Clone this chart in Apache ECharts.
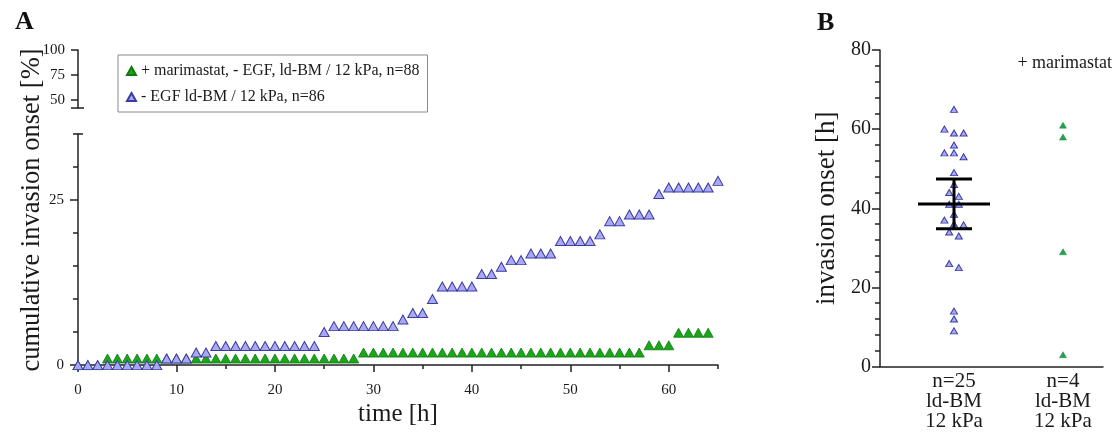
<!DOCTYPE html>
<html><head><meta charset="utf-8">
<script src="https://cdn.jsdelivr.net/npm/echarts@6/dist/echarts.min.js"></script>
<style>html,body{margin:0;padding:0;background:#fff}#c{width:1114px;height:432px}</style>
</head><body><div id="c"></div>
<script>
// ---------- Data ----------
const timeH = [0,1,2,3,4,5,6,7,8,9,10,11,12,13,14,15,16,17,18,19,20,21,22,23,24,25,26,27,28,29,30,31,32,33,34,35,36,37,38,39,40,41,42,43,44,45,46,47,48,49,50,51,52,53,54,55,56,57,58,59,60,61,62,63,64,65];
// - EGF ld-BM / 12 kPa (t = 0..65)
const blueOnset = [0,0,0,0,0,0,0,0,0, 1.0,1.0,1.0, 1.9,1.9, 2.9,2.9,2.9,2.9,2.9,2.9,2.9,2.9,2.9,2.9,2.9, 5.0, 5.9,5.9,5.9,5.9,5.9,5.9,5.9, 6.9, 7.9,7.9, 10.0, 11.9,11.9,11.9,11.9, 13.8,13.8, 14.9, 15.9,15.9, 16.9,16.9,16.9, 18.8,18.8,18.8,18.8, 19.8, 21.8,21.8, 22.8,22.8,22.8, 25.9, 26.9,26.9,26.9,26.9,26.9, 27.9];
// + marimastat, - EGF (t = 0..64)
const greenOnset = [0,0,0, 1.0,1.0,1.0,1.0,1.0,1.0,1.0,1.0,1.0,1.0,1.0,1.0,1.0,1.0,1.0,1.0,1.0,1.0,1.0,1.0,1.0,1.0,1.0,1.0,1.0,1.0, 1.9,1.9,1.9,1.9,1.9,1.9,1.9,1.9,1.9,1.9,1.9,1.9,1.9,1.9,1.9,1.9,1.9,1.9,1.9,1.9,1.9,1.9,1.9,1.9,1.9,1.9,1.9,1.9,1.9, 3.0,3.0,3.0, 4.9,4.9,4.9,4.9];
const greenLabel = '+ marimastat, - EGF, ld-BM / 12 kPa, n=88';
const blueLabel = '- EGF ld-BM / 12 kPa, n=86';
const timeTicks = [0,10,20,30,40,50,60];
const timeMinorTicks = [5,15,25,35,45,55,65];
const lowerYLabels = [0,25];
const upperYLabels = [50,75,100];

// Panel B
const bCategories = ['n=25\nld-BM\n12 kPa', 'n=4\nld-BM\n12 kPa'];
const bBlueValues = [65,60,59,59,56,54,54,53,49,46,44,43,41,41,38.5,37,36,35.8,34,33,26,25,14,12,9];
const bGreenValues = [61,58,29,3];
const bBlueStats = [41.1, 34.8, 47.4]; // mean, lower, upper
const bNote = '+ marimastat';

// ---------- helpers ----------
const FONT = '"Liberation Serif","Times New Roman",serif';
const TXT = '#1a1a1a';
function swarm(values, center, step){
  const order = values.map((v,i)=>i).sort((a,b)=>values[b]-values[a]);
  const out = new Array(values.length);
  let row = [], start = null;
  const flush = () => {
    const n = row.length;
    row.forEach((k,j)=>{ out[k] = [center + (j-(n-1)/2)*2*step, values[k]]; });
    row = [];
  };
  order.forEach(k=>{
    if (start === null || start - values[k] > 1.3) { flush(); start = values[k]; }
    row.push(k);
  });
  flush();
  return out;
}

const axisLineStyle = {lineStyle:{color:'#222', width:1.5}};
const tickStyle = {color:'#222', width:1.5};

const option = {
  animation:false,
  textStyle:{fontFamily:FONT, color:TXT},
  grid:[
    {left:78, top:134, width:640, height:236},
    {left:78, top:50, width:640, height:58},
    {left:880, top:50, width:223, height:320}
  ],
  legend:{
    data:[greenLabel, blueLabel], orient:'vertical', left:118, top:55,
    borderColor:'#8a8a8a', borderWidth:1, padding:[8,8,7,8], itemGap:10,
    itemWidth:9, itemHeight:8, icon:'triangle',
    textStyle:{fontFamily:FONT, fontSize:16, color:TXT}
  },
  xAxis:[
    {gridIndex:0, type:'value', position:'bottom', min:0, max:65, axisLine:axisLineStyle,
     axisTick:{customValues:timeTicks, length:7, lineStyle:tickStyle},
     axisLabel:{customValues:timeTicks, fontSize:15, color:TXT, fontFamily:FONT, margin:17},
     splitLine:{show:false},
     name:'time [h]', nameLocation:'middle', nameGap:35, nameTextStyle:{fontSize:25, color:TXT, fontFamily:FONT}},
    {gridIndex:0, type:'value', position:'bottom', min:0, max:65, axisLine:{show:false},
     axisTick:{customValues:timeMinorTicks, length:4, lineStyle:tickStyle},
     axisLabel:{show:false}, splitLine:{show:false}},
    {gridIndex:1, type:'value', min:0, max:65, show:false},
    {gridIndex:2, type:'value', position:'bottom', min:0.321, max:2.367, axisLine:axisLineStyle,
     axisTick:{show:false}, splitLine:{show:false},
     axisLabel:{customValues:[1,2], formatter:v=>bCategories[Math.round(v)-1], fontSize:21, lineHeight:20, color:TXT, fontFamily:FONT, margin:5}}
  ],
  yAxis:[
    {gridIndex:0, type:'value', position:'left', min:0, max:35, interval:5, axisLine:axisLineStyle,
     axisTick:{length:5, lineStyle:tickStyle}, splitLine:{show:false},
     axisLabel:{formatter:v=>lowerYLabels.includes(v)?String(v):'', fontSize:15, color:TXT, fontFamily:FONT, margin:14}},
    {gridIndex:0, type:'value', position:'left', min:0, max:35, axisLine:{show:false},
     axisTick:{customValues:lowerYLabels, length:8, lineStyle:tickStyle}, axisLabel:{show:false}, splitLine:{show:false}},
    {gridIndex:0, type:'value', position:'left', min:0, max:35, axisLine:{show:false},
     axisTick:{inside:true, customValues:[35], length:5, lineStyle:tickStyle}, axisLabel:{show:false}, splitLine:{show:false}},
    {gridIndex:1, type:'value', position:'left', min:42, max:100, axisLine:axisLineStyle,
     axisTick:{customValues:[42].concat(upperYLabels), length:7, lineStyle:tickStyle},
     axisLabel:{customValues:upperYLabels, fontSize:15, color:TXT, fontFamily:FONT, margin:13}, splitLine:{show:false}},
    {gridIndex:1, type:'value', position:'left', min:42, max:100, axisLine:{show:false},
     axisTick:{inside:true, customValues:[42], length:6, lineStyle:tickStyle}, axisLabel:{show:false}, splitLine:{show:false}},
    {gridIndex:2, type:'value', position:'left', min:0, max:80, interval:20, axisLine:axisLineStyle,
     axisTick:{length:8, lineStyle:tickStyle}, minorTick:{show:true, splitNumber:5, length:5, lineStyle:tickStyle},
     splitLine:{show:false}, minorSplitLine:{show:false},
     axisLabel:{fontSize:20, color:TXT, fontFamily:FONT, margin:9},
     name:'invasion onset [h]', nameLocation:'middle', nameGap:40, nameTextStyle:{fontSize:27, color:TXT, fontFamily:FONT}}
  ],
  series:[
    {name:greenLabel, type:'scatter', xAxisIndex:0, yAxisIndex:0, symbol:'triangle', symbolSize:[10,9],
     itemStyle:{color:'#1ca51c', borderColor:'#0e7a0e', borderWidth:0.8, opacity:1},
     data:greenOnset.map((v,i)=>[timeH[i], v]), z:2},
    {name:blueLabel, type:'scatter', xAxisIndex:0, yAxisIndex:0, symbol:'triangle', symbolSize:[10,9],
     itemStyle:{color:'#a9a9f2', borderColor:'#3b3ba3', borderWidth:1, opacity:1},
     data:blueOnset.map((v,i)=>[timeH[i], v]), z:3},
    {type:'scatter', xAxisIndex:3, yAxisIndex:5, symbol:'triangle', symbolSize:[7,6],
     itemStyle:{color:'#a9a9f2', borderColor:'#3b3ba3', borderWidth:1, opacity:1},
     data:swarm(bBlueValues, 1, 0.044), z:2},
    {type:'scatter', xAxisIndex:3, yAxisIndex:5, symbol:'triangle', symbolSize:[7,6],
     itemStyle:{color:'#22a150', borderColor:'#1b8a42', borderWidth:0.5, opacity:1},
     data:bGreenValues.map(v=>[2, v]), z:2},
    {type:'custom', xAxisIndex:3, yAxisIndex:5, z:5,
     data:[[1, bBlueStats[0], bBlueStats[1], bBlueStats[2]]],
     renderItem:(params, api)=>{
       const x = api.value(0);
       const pm = api.coord([x, api.value(1)]);
       const pl = api.coord([x, api.value(2)]);
       const ph = api.coord([x, api.value(3)]);
       const st = {stroke:'#000', lineWidth:3};
       const hm = 36, hc = 18;
       return {type:'group', children:[
         {type:'line', shape:{x1:pm[0]-hm, y1:pm[1], x2:pm[0]+hm, y2:pm[1]}, style:st},
         {type:'line', shape:{x1:pl[0]-hc, y1:pl[1], x2:pl[0]+hc, y2:pl[1]}, style:st},
         {type:'line', shape:{x1:ph[0]-hc, y1:ph[1], x2:ph[0]+hc, y2:ph[1]}, style:st},
         {type:'line', shape:{x1:pl[0], y1:pl[1], x2:ph[0], y2:ph[1]}, style:st}
       ]};
     }}
  ],
  graphic:[
    {type:'text', left:15, top:9, style:{text:'A', font:'bold 26px '+FONT, fill:'#111'}},
    {type:'text', left:817, top:10, style:{text:'B', font:'bold 26px '+FONT, fill:'#111'}},
    {type:'text', x:32, y:210, rotation:Math.PI/2, style:{text:'cumulative invasion onset [%]', font:'26.5px '+FONT, fill:TXT, textAlign:'center', textVerticalAlign:'middle'}},
    {type:'text', right:2, top:54, style:{text:bNote, font:'18px '+FONT, fill:TXT}}
  ]
};
const chart = echarts.init(document.getElementById('c'), null, {renderer:'canvas'});
chart.setOption(option);
</script>
</body></html>
